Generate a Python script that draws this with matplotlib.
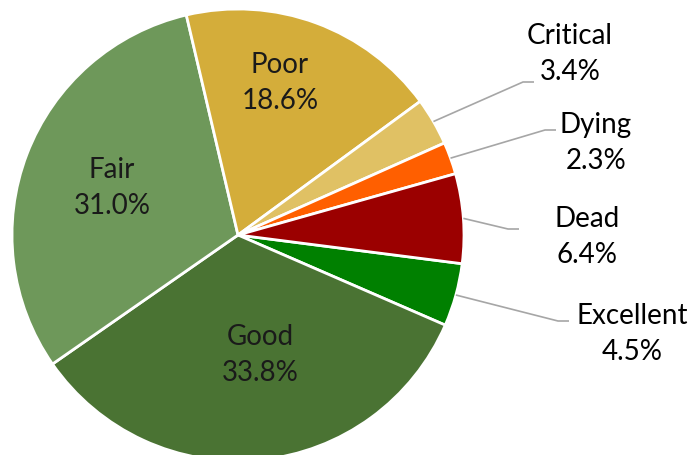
import numpy as np
import matplotlib.pyplot as plt

# tree condition shares, drawn clockwise
labels = ["Excellent", "Good", "Fair", "Poor", "Critical", "Dying", "Dead"]
shares = [4.5, 33.8, 31.0, 18.6, 3.4, 2.3, 6.4]
colors = ["#008000", "#4a7333", "#6e985a", "#d4ad3a", "#e0c164", "#ff5f00", "#9b0000"]

inside = ["Good", "Fair", "Poor"]
inside_xy = {"Good": (260, 355), "Fair": (112, 188), "Poor": (280, 83)}
# elbow of leader line, text centre (pixel coords from top-left)
outside_xy = {
    "Critical": ((523, 83), (570, 54)),
    "Dying": ((545, 131), (596, 143)),
    "Dead": ((508, 230), (587, 237)),
    "Excellent": ((558, 322), (632, 334)),
}

W, H = 695, 456
cx, cy, R = 238, 236, 226
start = -7.3

plt.rcParams["font.family"] = ["Lato", "DejaVu Sans"]
fig = plt.figure(figsize=(W / 100, H / 100), dpi=100)
ax = fig.add_axes([0, 0, 1, 1])

wedges, _ = ax.pie(shares, colors=colors, startangle=start, counterclock=False,
                   center=(cx, H - cy), radius=R,
                   wedgeprops=dict(edgecolor="white", linewidth=2.0))
ax.set_xlim(0, W)
ax.set_ylim(0, H)
ax.set_aspect("equal")
ax.axis("off")

fs = 20
for w, name, val in zip(wedges, labels, shares):
    txt = f"{name}\n{val:.1f}%"
    if name in inside:
        x, y = inside_xy[name]
        ax.text(x, H - y, txt, ha="center", va="center", fontsize=fs,
                color="#1a1a1a", linespacing=1.45)
    else:
        mid = np.deg2rad((w.theta1 + w.theta2) / 2)
        sx = cx + R * np.cos(mid)
        sy = (H - cy) + R * np.sin(mid)
        (ex, ey), (tx, ty) = outside_xy[name]
        ax.plot([sx, ex, ex + 11], [sy, H - ey, H - ey], color="#a6a6a6",
                lw=1.2, solid_capstyle="butt")
        ax.text(tx, H - ty, txt, ha="center", va="center", fontsize=fs,
                color="black", linespacing=1.45)

fig.savefig("out.png", dpi=100)
